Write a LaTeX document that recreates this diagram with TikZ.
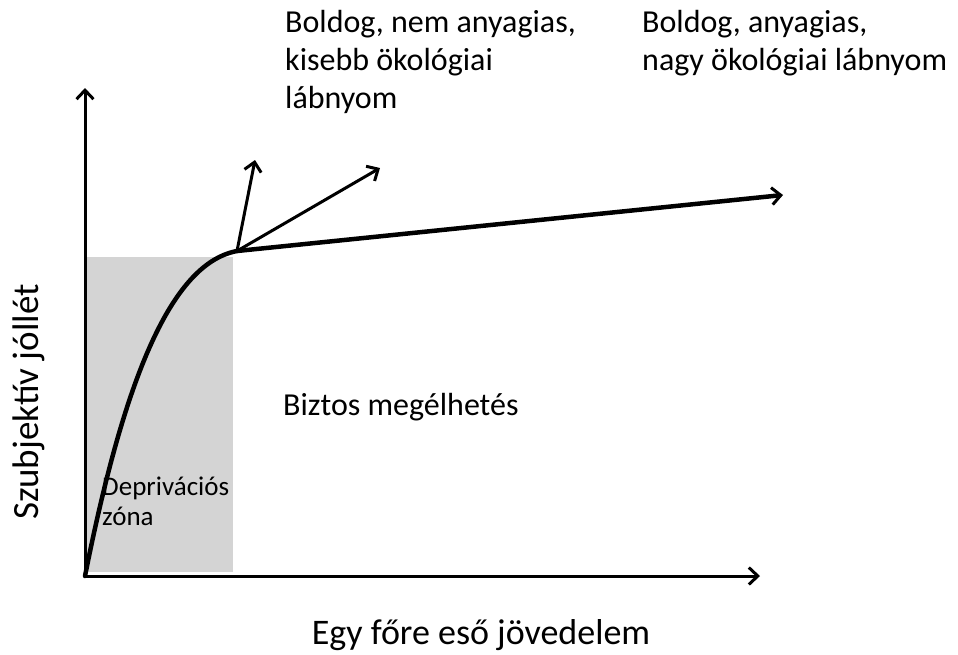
\documentclass[tikz,border=0pt]{standalone}
\usepackage{fontspec}
\setmainfont{Carlito}
\usetikzlibrary{arrows.meta, positioning}
\definecolor{zonegray}{RGB}{212,212,212}

\begin{document}
\begin{tikzpicture}[
    x=1pt, y=-1pt,
    % styles
    axis/.style={
        draw=black, line width=3pt, -{Straight Barb[length=9pt, width=17pt, line width=3pt]}
    },
    curve/.style={
        draw=black, line width=4.5pt, line cap=round
    },
    branch/.style={
        draw=black, line width=3pt, -{Straight Barb[length=9pt, width=17pt, line width=3pt]}
    },
    label_text/.style={
        anchor=base west, inner sep=0pt, align=left, font=\fontsize{32}{38}\selectfont
    }
]
    \useasboundingbox (0,0) rectangle (958,654);

    % --- deprivation zone ---
    \fill[zonegray] (87,257) rectangle (233,572);

    % --- AXES ---
    \coordinate (origin) at (85,576);
    \coordinate (y_tip) at (85,88);
    \coordinate (x_tip) at (760,576);
    \draw[axis] (origin) -- (y_tip);
    \draw[axis] (origin) -- (x_tip);

    % --- CURVE ---
    \coordinate (knee) at (237,251);
    \coordinate (main_tip) at (783,195);
    \coordinate (up_tip) at (255,160);
    \coordinate (mid_tip) at (380,168);
    \draw[curve] (origin) .. controls (122,390) and (168,264) .. (knee);
    \draw[curve, -{Straight Barb[length=9pt, width=17pt, line width=3pt]}] (knee) -- (main_tip);
    \draw[branch] (knee) -- (up_tip);
    \draw[branch] (knee) -- (mid_tip);

    % --- LABELS (anchored at last baseline) ---
    \node[label_text] (nonmat) at (285,108) {Boldog, nem anyagias,\\kisebb ökológiai\\lábnyom};
    \node[label_text] (mat) at (642,70) {Boldog, anyagias,\\nagy ökológiai lábnyom};
    \node[label_text] (secure) at (283,415) {Biztos megélhetés};
    \node[label_text, font=\fontsize{27}{30}\selectfont] (zone) at (102,525) {Deprivációs\\zóna};
    \node[anchor=base, inner sep=0pt, font=\fontsize{36}{40}\selectfont] (x_label) at (481,644) {Egy főre eső jövedelem};
    \node[anchor=base, inner sep=0pt, rotate=90, font=\fontsize{37}{40}\selectfont] (y_label) at (38,402) {Szubjektív jóllét};

\end{tikzpicture}
\end{document}
